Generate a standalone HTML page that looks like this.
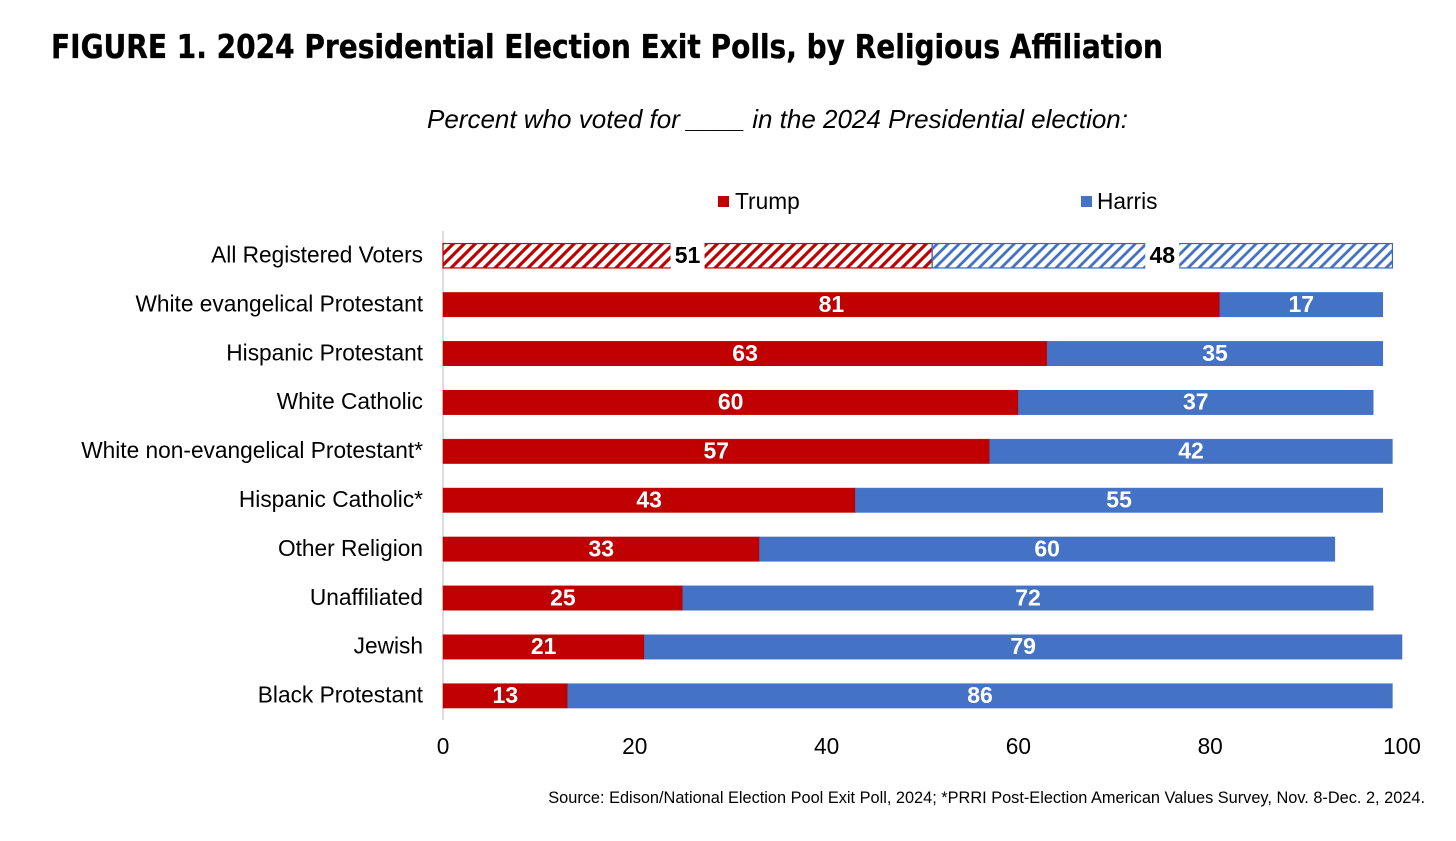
<!DOCTYPE html>
<html lang="en">
<head>
<meta charset="utf-8">
<title>2024 Presidential Election Exit Polls, by Religious Affiliation</title>
<style>
html,body{margin:0;padding:0;background:#fff;}
svg{display:block;}
text{font-family:"Liberation Sans",Arial,sans-serif;}
</style>
</head>
<body>
<svg id="chart" xmlns="http://www.w3.org/2000/svg" width="1456" height="841" viewBox="0 0 1456 841">
  <defs>
    <pattern id="hatch-trump" width="11" height="11" patternUnits="userSpaceOnUse" patternTransform="translate(443 243)">
      <path d="M-3 3L3 -3M0 11L11 0M8 14L14 8" stroke="#c00000" stroke-width="3.1" fill="none"/>
    </pattern>
    <pattern id="hatch-harris" width="11" height="11" patternUnits="userSpaceOnUse" patternTransform="translate(443 243)">
      <path d="M-3 3L3 -3M0 11L11 0M8 14L14 8" stroke="#4472c4" stroke-width="2.8" fill="none"/>
    </pattern>
  </defs>
  <rect width="1456" height="841" fill="#fff"/>
  <text x="51" y="58" textLength="1112" lengthAdjust="spacingAndGlyphs" style="font-family:'DejaVu Sans','Noto Sans CJK JP',sans-serif" font-weight="700" font-size="32.5" fill="#000" stroke="#000" stroke-width="0.35">FIGURE 1. 2024 Presidential Election Exit Polls, by Religious Affiliation</text>
  <text x="777.5" y="128" text-anchor="middle" font-style="italic" font-size="26" fill="#000">Percent who voted for ____ in the 2024 Presidential election:</text>
  <g>
    <g>
      <rect x="718" y="196" width="11" height="11" fill="#c00000"/>
      <text x="735" y="209" font-size="22.7" fill="#000">Trump</text>
    </g>
    <g>
      <rect x="1081" y="196" width="11" height="11" fill="#4472c4"/>
      <text x="1097" y="209" font-size="22.7" fill="#000">Harris</text>
    </g>
  </g>
  <g id="plot"></g>
  <text x="1425" y="803" text-anchor="end" font-size="16.34" fill="#000">Source: Edison/National Election Pool Exit Poll, 2024; *PRRI Post-Election American Values Survey, Nov. 8-Dec. 2, 2024.</text>
</svg>
<script>
const categories = ["All Registered Voters","White evangelical Protestant","Hispanic Protestant","White Catholic","White non-evangelical Protestant*","Hispanic Catholic*","Other Religion","Unaffiliated","Jewish","Black Protestant"];
const trumpValues = [51,81,63,60,57,43,33,25,21,13];
const harrisValues = [48,17,35,37,42,55,60,72,79,86];
const tickLabels = [0,20,40,60,80,100];

const NS = "http://www.w3.org/2000/svg";
const plot = document.getElementById("plot");
const plotLeft = 443, plotRight = 1402, plotTop = 231, rowStep = 48.9, barHeight = 24.4;
const RED = "#c00000", BLUE = "#4472c4";

function xScale(v){ return plotLeft + v * (plotRight - plotLeft) / 100; }
function yScale(i){ return plotTop + rowStep * (i + 0.5); }
function make(tag, attrs){
  const el = document.createElementNS(NS, tag);
  for (const k in attrs) el.setAttribute(k, attrs[k]);
  plot.appendChild(el);
  return el;
}

const axisLine = make("line", {x1: plotLeft, x2: plotLeft, y1: plotTop, y2: plotTop + rowStep * categories.length, stroke: "#c9c9c9", "stroke-width": 1.3});



tickLabels.forEach(function(t){
  const tick = make("text", {x: xScale(t), y: 754, "text-anchor": "middle", "font-size": 22.7, fill: "#000"});
  
  
  tick.textContent = t;
});

categories.forEach(function(name, i){
  const cy = yScale(i);
  const top = cy - barHeight / 2 + 0.3;
  const hatched = i === 0;
  const t = trumpValues[i], h = harrisValues[i];

  const label = make("text", {x: 423, y: cy + 7, "text-anchor": "end", "font-size": 22.7, fill: "#000"});
  
  
  label.textContent = name;

  const barT = make("rect", {x: xScale(0), y: top, width: xScale(t) - xScale(0), height: barHeight,
    fill: hatched ? "url(#hatch-trump)" : RED, stroke: RED, "stroke-width": hatched ? 1.2 : 0.5});
  
  

  const barH = make("rect", {x: xScale(t), y: top, width: xScale(t + h) - xScale(t), height: barHeight,
    fill: hatched ? "url(#hatch-harris)" : BLUE, stroke: hatched ? "#2f6bc4" : "#3f6fc6", "stroke-width": hatched ? 1.2 : 0.5});
  
  

  [[t / 2, t, 'trump'], [t + h / 2, h, 'harris']].forEach(function(d){
    const cx = xScale(d[0]);
    if (hatched) {
      const gap = make("rect", {x: cx - 17, y: top - 2, width: 34, height: barHeight + 4, fill: "#fff"});
      
      
    }
    const val = make("text", {x: cx, y: cy + 7.5, "text-anchor": "middle", "font-size": 23, "font-weight": 700, fill: hatched ? "#000" : "#fff"});
    
    
    val.textContent = d[1];
  });
});
</script>
</body>
</html>
